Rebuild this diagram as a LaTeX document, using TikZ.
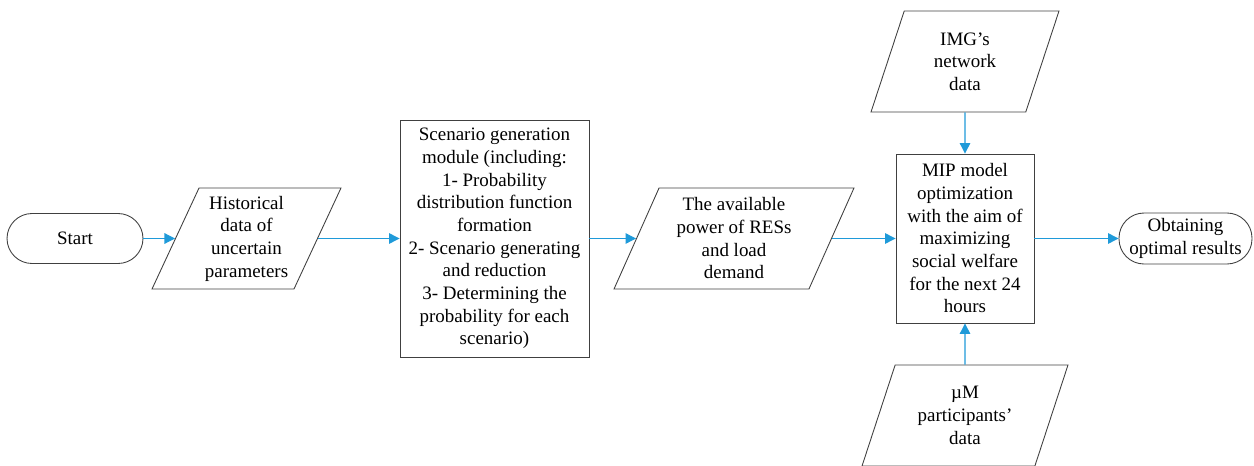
\documentclass[tikz,border=0pt]{standalone}
\usepackage{fontspec}
\setmainfont{Liberation Serif}
\usepackage{xcolor}
\usetikzlibrary{arrows.meta,shapes.geometric}
\definecolor{flowline}{HTML}{404040}
\definecolor{flowblue}{HTML}{1F9AD9}
\tikzset{
  flowbox/.style={
    draw=flowline,
    line width=0.5pt,
    align=center,
    inner sep=2pt,
    font=\fontsize{10.8}{12.9}\selectfont
  },
  termbox/.style={flowbox, rectangle, rounded corners=0.5cm, inner sep=1pt},
  procbox/.style={flowbox, rectangle},
  databox/.style={flowbox, trapezium, trapezium left angle=63, trapezium right angle=117, trapezium stretches body},
  arrow/.style={-{Triangle[length=6pt,width=6pt]}, line width=0.6pt, draw=flowblue}
}
\begin{document}
\begin{tikzpicture}[x=0.02cm, y=-0.02cm]
  \useasboundingbox (0,0) rectangle (1254,466);

  % main row
  \node[termbox, minimum width=2.72cm, minimum height=1.0cm] (start) at (75,238.5) {Start};
  \node[databox, minimum width=3.78cm, minimum height=2.02cm] (hist) at (246.5,238.5) {Historical\\data of\\uncertain\\parameters};
  \node[procbox, minimum width=3.78cm, minimum height=4.74cm] (scen) at (494.5,238.5) {Scenario generation\\module (including:\\1- Probability\\distribution function\\formation\\2- Scenario generating\\and reduction\\3- Determining the\\probability for each\\scenario)};
  \node[databox, minimum width=4.8cm, minimum height=2.02cm] (power) at (734,238.5) {The available\\power of RESs\\and load\\demand};
  \node[procbox, minimum width=2.76cm, minimum height=3.38cm] (mip) at (965,238.5) {MIP model\\optimization\\with the aim of\\maximizing\\social welfare\\for the next 24\\hours};
  \node[termbox, minimum width=2.66cm, minimum height=1.02cm] (result) at (1185.5,238.5) {Obtaining\\optimal results};

  % inputs of the model
  \node[databox, minimum width=3.76cm, minimum height=2.02cm] (img) at (965,61.5) {IMG’s\\network\\data};
  \node[databox, minimum width=4.12cm, minimum height=2.02cm] (um) at (965,415.5) {µM\\participants’\\data};

  % arrows
  \draw[arrow] (start.east) -- (hist.left side);
  \draw[arrow] (hist.right side) -- (scen.west);
  \draw[arrow] (scen.east) -- (power.left side);
  \draw[arrow] (power.right side) -- (mip.west);
  \draw[arrow] (img.south) -- (mip.north);
  \draw[arrow] (um.north) -- (mip.south);
  \draw[arrow] (mip.east) -- (result.west);
\end{tikzpicture}
\end{document}
